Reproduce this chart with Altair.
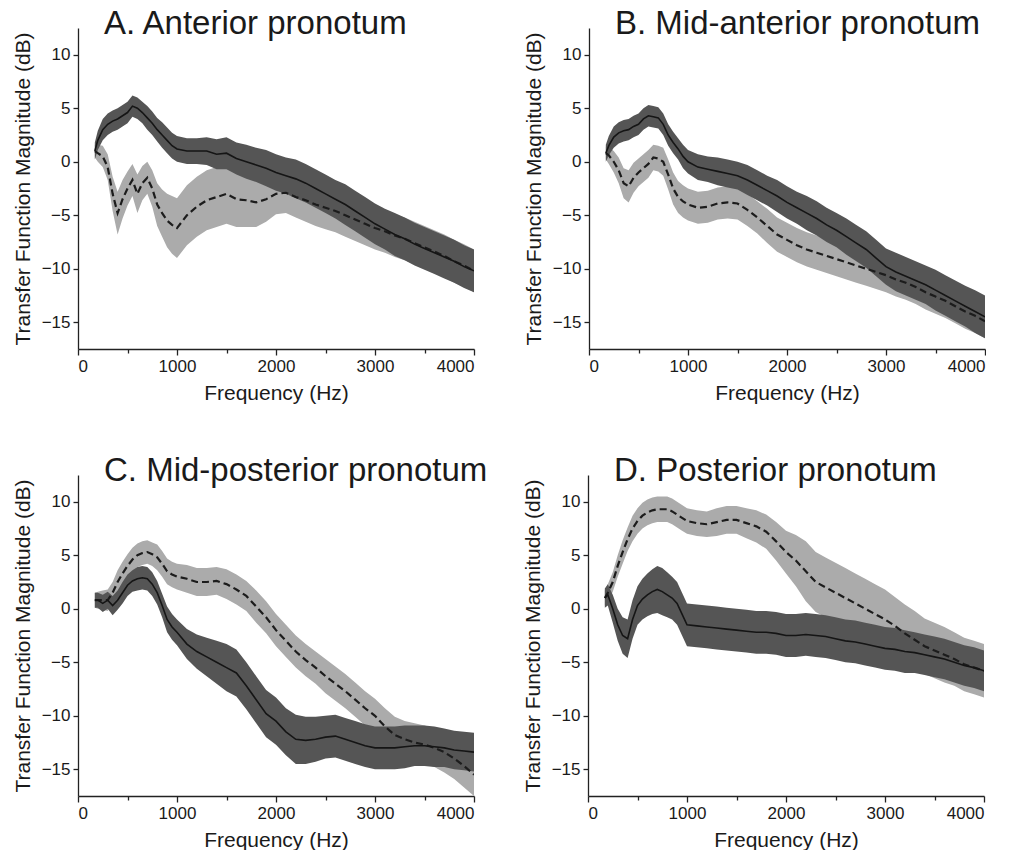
import altair as alt
import pandas as pd

FREQ = [170, 200, 250, 300, 350, 400, 450, 500, 550, 600, 650, 700, 750, 800, 850, 900, 950,
        1000, 1100, 1200, 1300, 1400, 1500, 1600, 1700, 1800, 1900, 2000, 2100, 2200, 2300,
        2400, 2500, 2600, 2700, 2800, 2900, 3000, 3100, 3200, 3300, 3400, 3500, 3600, 3700,
        3800, 3900, 4000]

# Panel A
A_SOLID = [1.0, 2.0, 3.0, 3.5, 3.8, 4.0, 4.3, 4.6, 5.2, 5.0, 4.6, 4.1, 3.6, 3.0, 2.5, 2.0, 1.5,
           1.2, 1.0, 1.0, 1.0, 0.7, 0.8, 0.3, 0.0, -0.3, -0.6, -1.0, -1.3, -1.6, -2.0,
           -2.5, -3.0, -3.5, -4.0, -4.6, -5.2, -5.8, -6.3, -6.8, -7.2, -7.7, -8.1, -8.5, -8.9,
           -9.3, -9.8, -10.2]
A_SOLID_SD = [0.8, 0.9, 1.0, 1.0, 1.0, 1.0, 1.0, 1.0, 1.0, 1.0, 1.0, 1.1, 1.1, 1.1, 1.2, 1.2, 1.2,
              1.2, 1.2, 1.2, 1.3, 1.4, 1.5, 1.5, 1.6, 1.6, 1.7, 1.7, 1.7, 1.8, 1.8,
              1.8, 1.8, 1.8, 1.9, 1.9, 1.9, 1.9, 1.9, 2.0, 2.0, 2.0, 2.0, 2.0, 2.0,
              2.0, 2.0, 2.0]
A_DASH = [1.0, 0.8, 0.5, -0.5, -3.0, -4.8, -3.5, -2.5, -1.7, -3.0, -2.0, -1.5, -2.5, -4.0, -4.8, -5.5, -5.9,
          -6.2, -5.0, -4.2, -3.6, -3.3, -3.0, -3.5, -3.6, -3.8, -3.5, -3.0, -2.9, -3.3, -3.6,
          -4.0, -4.3, -4.6, -5.0, -5.4, -5.8, -6.2, -6.5, -6.9, -7.2, -7.6, -8.0, -8.4, -8.8,
          -9.3, -9.7, -10.2]
A_DASH_SD = [0.6, 0.8, 1.0, 1.2, 1.6, 2.0, 1.8, 1.6, 1.5, 1.8, 1.6, 1.5, 1.7, 2.0, 2.2, 2.5, 2.7,
             2.8, 2.8, 2.8, 2.8, 2.8, 2.8, 2.6, 2.5, 2.3, 2.1, 1.9, 1.9, 1.9, 2.0,
             2.0, 2.0, 2.0, 2.0, 2.0, 2.0, 2.0, 2.0, 2.0, 2.0, 2.0, 2.0, 2.0, 2.0,
             2.0, 2.0, 2.0]

# Panel B
B_SOLID = [0.8, 1.5, 2.3, 2.7, 2.9, 3.0, 3.3, 3.5, 4.0, 4.3, 4.2, 4.1, 3.5, 2.5, 1.8, 1.2, 0.5,
           0.0, -0.5, -0.7, -0.9, -1.1, -1.3, -1.7, -2.2, -2.7, -3.2, -3.8, -4.3, -4.8, -5.3,
           -5.9, -6.4, -7.0, -7.6, -8.2, -9.0, -9.8, -10.3, -10.7, -11.1, -11.5, -12.0, -12.5, -13.0,
           -13.5, -14.0, -14.5]
B_SOLID_SD = [0.8, 0.9, 1.0, 1.0, 1.0, 1.0, 1.0, 1.0, 1.0, 1.0, 1.0, 1.0, 1.0, 1.0, 1.0, 1.0, 1.1,
              1.1, 1.2, 1.2, 1.3, 1.3, 1.3, 1.4, 1.4, 1.4, 1.5, 1.5, 1.5, 1.6, 1.6,
              1.6, 1.6, 1.7, 1.7, 1.7, 1.7, 1.7, 1.8, 1.8, 1.8, 1.8, 1.9, 1.9, 1.9,
              1.9, 2.0, 2.0]
B_DASH = [0.8, 0.6, 0.0, -0.8, -2.0, -2.3, -1.5, -1.0, -0.6, -0.2, 0.4, 0.3, 0.0, -1.2, -2.5, -3.3, -3.7,
          -4.0, -4.3, -4.2, -3.9, -3.8, -3.9, -4.5, -5.2, -6.0, -6.8, -7.3, -7.8, -8.2, -8.5,
          -8.8, -9.1, -9.4, -9.7, -10.0, -10.3, -10.6, -11.0, -11.3, -11.7, -12.2, -12.6, -13.0, -13.5,
          -14.0, -14.4, -14.9]
B_DASH_SD = [0.6, 0.8, 1.0, 1.2, 1.4, 1.5, 1.4, 1.3, 1.3, 1.3, 1.2, 1.2, 1.3, 1.4, 1.5, 1.5, 1.5,
             1.5, 1.5, 1.5, 1.5, 1.5, 1.5, 1.5, 1.5, 1.6, 1.6, 1.6, 1.6, 1.6, 1.6,
             1.6, 1.6, 1.6, 1.6, 1.6, 1.6, 1.6, 1.6, 1.6, 1.6, 1.6, 1.6, 1.6, 1.6,
             1.6, 1.6, 1.6]

# Panel C
C_SOLID = [0.8, 0.8, 0.5, 0.8, 0.3, 0.8, 1.5, 2.2, 2.6, 2.8, 2.9, 2.8, 2.3, 1.5, 0.3, -1.0, -1.7,
           -2.2, -3.3, -4.0, -4.5, -5.0, -5.5, -6.0, -7.2, -8.5, -9.8, -10.5, -11.5, -12.2, -12.3,
           -12.2, -12.0, -11.9, -12.2, -12.5, -12.8, -13.0, -13.0, -13.0, -12.9, -12.8, -12.8, -12.9, -13.0,
           -13.2, -13.3, -13.4]
C_SOLID_SD = [0.7, 0.7, 0.8, 0.8, 0.9, 0.9, 1.0, 1.0, 1.0, 1.1, 1.1, 1.1, 1.1, 1.1, 1.1, 1.2, 1.2,
              1.2, 1.4, 1.6, 1.8, 2.0, 2.2, 2.2, 2.2, 2.2, 2.2, 2.2, 2.2, 2.3, 2.2,
              2.1, 2.0, 2.0, 2.0, 2.0, 2.0, 2.0, 2.0, 2.0, 2.0, 1.9, 1.9, 1.9, 1.8,
              1.8, 1.8, 1.8]
C_DASH = [0.8, 0.8, 0.8, 0.8, 1.5, 2.5, 3.3, 4.0, 4.6, 5.0, 5.2, 5.3, 5.1, 4.8, 4.2, 3.5, 3.2,
          3.0, 2.8, 2.5, 2.5, 2.6, 2.3, 1.8, 1.2, 0.2, -0.8, -2.0, -3.0, -4.0, -4.8,
          -5.5, -6.3, -7.0, -7.7, -8.5, -9.3, -10.0, -11.0, -11.8, -12.2, -12.5, -12.7, -13.0, -13.4,
          -14.0, -14.7, -15.5]
C_DASH_SD = [0.7, 0.8, 0.9, 1.0, 1.0, 1.1, 1.1, 1.1, 1.1, 1.1, 1.1, 1.1, 1.1, 1.2, 1.2, 1.2, 1.2,
             1.2, 1.3, 1.3, 1.3, 1.3, 1.4, 1.4, 1.4, 1.5, 1.5, 1.5, 1.5, 1.5, 1.5,
             1.5, 1.6, 1.6, 1.6, 1.6, 1.6, 1.6, 1.7, 1.7, 1.7, 1.8, 1.8, 1.8, 1.9,
             1.9, 2.0, 2.0]

# Panel D
D_SOLID = [1.0, 1.3, 0.0, -1.5, -2.5, -2.8, -1.0, 0.3, 0.9, 1.3, 1.6, 1.8, 1.6, 1.3, 1.0, 0.5, -0.5,
           -1.5, -1.6, -1.7, -1.8, -1.9, -2.0, -2.1, -2.2, -2.2, -2.3, -2.5, -2.5, -2.4, -2.5,
           -2.6, -2.8, -3.0, -3.1, -3.3, -3.5, -3.7, -3.8, -4.0, -4.1, -4.3, -4.5, -4.7, -5.0,
           -5.3, -5.5, -5.8]
D_SOLID_SD = [0.9, 1.0, 1.3, 1.5, 1.7, 1.8, 1.8, 1.8, 1.9, 2.0, 2.1, 2.2, 2.2, 2.1, 2.0, 2.0, 2.0,
              2.0, 2.0, 2.0, 2.0, 2.0, 2.0, 2.0, 2.0, 2.0, 2.0, 2.0, 2.0, 2.0, 2.0,
              2.0, 2.0, 2.0, 2.0, 2.0, 2.0, 2.0, 2.0, 2.0, 1.9, 1.9, 1.9, 1.9, 1.9,
              1.9, 1.9, 1.9]
D_DASH = [1.0, 1.5, 2.5, 4.0, 5.3, 6.5, 7.5, 8.2, 8.7, 9.0, 9.2, 9.3, 9.3, 9.3, 9.1, 8.8, 8.5,
          8.2, 8.0, 7.9, 8.1, 8.3, 8.3, 8.0, 7.7, 7.2, 6.3, 5.3, 4.5, 3.5, 2.5,
          2.0, 1.5, 1.0, 0.5, 0.0, -0.5, -1.0, -1.6, -2.3, -2.9, -3.5, -3.9, -4.3, -4.7,
          -5.2, -5.5, -5.8]
D_DASH_SD = [0.7, 0.8, 0.9, 1.0, 1.1, 1.1, 1.2, 1.2, 1.2, 1.2, 1.2, 1.2, 1.2, 1.2, 1.2, 1.2, 1.2,
             1.2, 1.2, 1.2, 1.3, 1.3, 1.3, 1.4, 1.5, 1.6, 1.8, 2.0, 2.4, 2.8, 2.8,
             2.8, 2.8, 2.8, 2.8, 2.8, 2.8, 2.8, 2.7, 2.7, 2.7, 2.6, 2.6, 2.6, 2.5,
             2.5, 2.5, 2.5]

TITLES = ["A. Anterior pronotum", "B. Mid-anterior pronotum",
          "C. Mid-posterior pronotum", "D. Posterior pronotum"]
X_TICKS = [0, 500, 1000, 1500, 2000, 2500, 3000, 3500, 4000]
Y_TICKS = [-15, -12.5, -10, -7.5, -5, -2.5, 0, 2.5, 5, 7.5, 10]

FONT = "Liberation Sans"
DARK_BAND = "#555555"
LIGHT_BAND = "#ababab"


def panel(title, solid, solid_sd, dash, dash_sd):
    df = pd.DataFrame({"f": FREQ, "s": solid, "ssd": solid_sd, "d": dash, "dsd": dash_sd})
    base = alt.Chart(df).transform_calculate(
        s_lo="datum.s - datum.ssd", s_hi="datum.s + datum.ssd",
        d_lo="datum.d - datum.dsd", d_hi="datum.d + datum.dsd",
    )
    x = alt.X("f:Q", scale=alt.Scale(domain=[0, 4000], nice=False, zero=False),
              axis=alt.Axis(values=X_TICKS, title="Frequency (Hz)", format="d",
                            labelOverlap=False,
                            labelExpr="datum.value % 1000 === 0 ? datum.label : ''",
                            tickSize={"condition": {"test": "datum.value % 1000 === 0", "value": 6}, "value": 4}))
    yscale = alt.Scale(domain=[-17.5, 12.5], nice=False, zero=False)
    yaxis = alt.Axis(values=Y_TICKS, title="Transfer Function Magnitude (dB)", format="d",
                     labelOverlap=False, tickSize=5,
                     labelExpr="datum.value % 5 === 0 ? datum.label : ''")
    light = base.mark_area(color=LIGHT_BAND, clip=True).encode(
        x=x, y=alt.Y("d_lo:Q", scale=yscale, axis=yaxis), y2="d_hi:Q")
    dark = base.mark_area(color=DARK_BAND, clip=True).encode(
        x="f:Q", y="s_lo:Q", y2="s_hi:Q")
    dline = base.mark_line(color="#1c1c1c", strokeWidth=2.2, strokeDash=[7, 4], clip=True).encode(
        x="f:Q", y="d:Q")
    sline = base.mark_line(color="#151515", strokeWidth=1.6, clip=True).encode(
        x="f:Q", y="s:Q")
    return alt.layer(light, dark, dline, sline).properties(
        width=396, height=321,
        title=alt.TitleParams(title, anchor="start", frame="group", dx=26, fontSize=33, font=FONT,
                              fontWeight="normal", color="#1a1a1a", baseline="alphabetic",
                              offset=-39),
    )


pA = panel(TITLES[0], A_SOLID, A_SOLID_SD, A_DASH, A_DASH_SD)
pB = panel(TITLES[1], B_SOLID, B_SOLID_SD, B_DASH, B_DASH_SD)
pC = panel(TITLES[2], C_SOLID, C_SOLID_SD, C_DASH, C_DASH_SD)
pD = panel(TITLES[3], D_SOLID, D_SOLID_SD, D_DASH, D_DASH_SD)

chart = alt.vconcat(
    alt.hconcat(pA, pB, spacing=48),
    alt.hconcat(pC, pD, spacing=34),
    spacing=52,
).properties(
    padding={"left": 12, "top": 8, "right": 0, "bottom": 0},
    background="white",
).configure_view(stroke=None).configure_axis(
    grid=False, domainColor="#222222", tickColor="#222222", labelColor="#1a1a1a",
    titleColor="#1a1a1a", labelFont=FONT, titleFont=FONT, labelFontSize=17,
    titleFontSize=21, titleFontWeight="normal", domainWidth=1.3, tickWidth=1.3,
    labelPadding=3, titlePadding=8,
)

chart.save("out.html", embed_options={"renderer": "svg", "actions": False})
